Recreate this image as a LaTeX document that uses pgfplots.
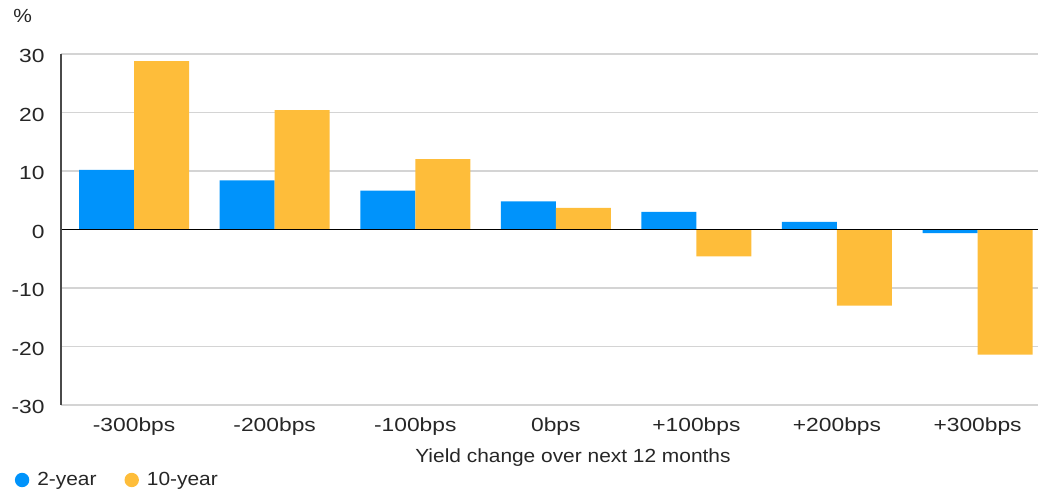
\documentclass[border=0pt]{standalone}
\usepackage{pgfplots}
\pgfplotsset{compat=1.18}
\usepackage{fontspec}
\setmainfont{Liberation Sans}[FakeStretch=1.1]
\newfontfamily\tickfont{Liberation Sans}[FakeStretch=1.2]

\definecolor{twoyr}{HTML}{0093FB}
\definecolor{tenyr}{HTML}{FEBD3A}
\definecolor{txt}{HTML}{262626}
\definecolor{gridc}{HTML}{D4D4D4}
\definecolor{spine}{HTML}{4A4A4A}

\begin{document}
\fontsize{9.5pt}{11pt}\selectfont
\begin{tikzpicture}
\useasboundingbox (-30.5pt,-43pt) rectangle (488.5pt,202.5pt);
\begin{axis}[
  scale only axis,
  width=488.5pt, height=175.5pt,
  xmin=-0.52, xmax=6.43,
  ymin=-30, ymax=30,
  clip=false,
  ybar=0pt, bar width=27.5pt,
  axis line style={draw=none},
  major tick length=0pt,
  ymajorgrids,
  major grid style={gridc, line width=0.75pt},
  xtick={0,1,2,3,4,5,6},
  xticklabels={-300bps,-200bps,-100bps,0bps,+100bps,+200bps,+300bps},
  ytick={-30,-20,-10,0,10,20,30},
  yticklabels={-30,-20,-10,0,10,20,30},
  tick label style={font=\tickfont\fontsize{9.5pt}{11pt}\selectfont, text=txt},
  xticklabel style={anchor=base, inner sep=0pt, yshift=-13.3pt},
  yticklabel style={anchor=east, inner sep=0pt, xshift=-8pt, yshift=-1pt},
  xlabel={Yield change over next 12 months},
  xlabel style={at={(axis description cs:0.524,0)}, anchor=base, inner sep=0pt,
    yshift=-29pt, text=txt, font=\fontsize{9.5pt}{11pt}\selectfont},
  legend columns=2,
  legend style={draw=none, fill=none, at={(axis description cs:0,0)},
    anchor=west, xshift=-23.25pt, yshift=-37.5pt, inner sep=0pt,
    font=\fontsize{9.5pt}{11pt}\selectfont, text=txt,
    nodes={inner sep=0pt},
    /tikz/every odd column/.append style={column sep=4pt},
    /tikz/every even column/.append style={column sep=14pt}},
]
\addplot[fill=twoyr, draw=none,
  legend image code/.code={\fill[twoyr] (0pt,0pt) circle (3.6pt);}]
  coordinates {(0,10.2) (1,8.4) (2,6.65) (3,4.8) (4,3.0) (5,1.3) (6,-0.6)};
\addlegendentry{2-year}
\addplot[fill=tenyr, draw=none,
  legend image code/.code={\fill[tenyr] (0pt,0pt) circle (3.6pt);}]
  coordinates {(0,28.8) (1,20.4) (2,12.05) (3,3.7) (4,-4.6) (5,-13.0) (6,-21.4)};
\addlegendentry{10-year}
% zero line over the bars, and the left spine
\draw[black, line width=0.75pt] (axis cs:-0.52,0) -- (axis cs:6.43,0);
\draw[spine, line width=0.75pt] (rel axis cs:0,0) -- (rel axis cs:0,1);
\node[anchor=base west, inner sep=0pt, text=txt, xshift=-24pt, yshift=15.5pt]
  at (rel axis cs:0,1) {\%};
\end{axis}
\end{tikzpicture}
\end{document}
